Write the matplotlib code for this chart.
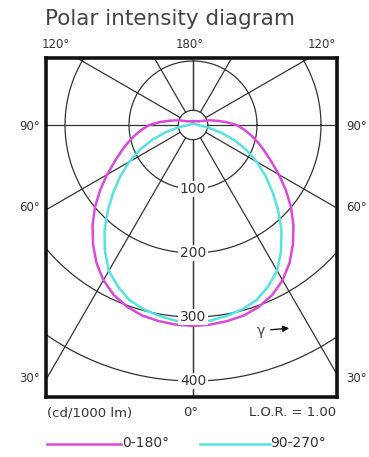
import numpy as np
import matplotlib
matplotlib.use('Agg')
import matplotlib.pyplot as plt

plt.rcParams['font.family'] = ['DejaVu Sans']

# Intensity (cd/1000 lm) against gamma angle
gamma_m = [0, 5, 10, 15, 20, 25, 30, 35, 40, 45, 50, 55, 60, 65, 70, 75, 80, 85,
           90, 95, 100, 105, 110, 120, 135, 150, 165, 180]
int_m = [314, 313, 311, 308, 302, 293, 280, 263, 243, 222, 200, 177, 155, 135,
         119, 105, 92, 80, 68, 52, 38, 28, 20, 12, 8, 7, 6, 6]

gamma_c = [0, 5, 10, 15, 20, 25, 30, 35, 40, 45, 50, 55, 60, 65, 70, 75, 80, 85,
           90, 105, 120, 150, 180]
int_c = [308, 307, 303, 298, 291, 278, 263, 240, 215, 188, 162, 138, 115, 92,
         68, 45, 25, 13, 7, 4, 3, 3, 3]

rings = [100, 200, 300, 400]
spokes = [0, 30, 60, 90, 120, 150, 180]
side_labels = ['90°', '60°', '30°']
top_labels = ['120°', '180°', '120°']

W, H = 369, 457
fig = plt.figure(figsize=(W / 100, H / 100), dpi=100)

# pixel helpers
def fx(x):
    return x / W

def fy(y):
    return 1 - y / H

ox, oy, s = 193, 125, 0.64  # origin in px, px per cd unit
left, right, top, bottom = 46, 337, 58, 397
ax = fig.add_axes([fx(left), fy(bottom), (right - left) / W, (bottom - top) / H])
ax.set_xlim((left - ox) / s, (right - ox) / s)
ax.set_ylim((oy - bottom) / s, (oy - top) / s)
ax.set_xticks([])
ax.set_yticks([])
for sp in ax.spines.values():
    sp.set_linewidth(2.6)
    sp.set_color('#111111')

grid_kw = dict(color='#333333', lw=0.9, zorder=1)

# rings
t = np.linspace(0, 2 * np.pi, 400)
for r in rings:
    ax.plot(r * np.cos(t), r * np.sin(t), **grid_kw)
    ax.text(0, -r, str(r), ha='center', va='center', fontsize=10, color='#333333',
            bbox=dict(boxstyle='square,pad=0.1', fc='white', ec='none'), zorder=4)

# small centre circle and spokes
r0 = 23
ax.plot(r0 * np.cos(t), r0 * np.sin(t), **grid_kw)
for a in spokes:
    th = np.radians(a)
    for sgn in (-1, 1):
        ax.plot([sgn * r0 * np.sin(th), sgn * 700 * np.sin(th)],
                [-r0 * np.cos(th), -700 * np.cos(th)], **grid_kw)


def closed_curve(g, v):
    g = np.radians(np.array(g))
    v = np.array(v, dtype=float)
    xl, yl = -v * np.sin(g), -v * np.cos(g)
    xr, yr = v * np.sin(g), -v * np.cos(g)
    return np.r_[xl[::-1], xr], np.r_[yl[::-1], yr]


xm, ym = closed_curve(gamma_m, int_m)
xc, yc = closed_curve(gamma_c, int_c)
ax.plot(xc, yc, color='#55e2e2', lw=1.8, zorder=2)
ax.plot(xm, ym, color='#d94ad9', lw=1.8, zorder=3)

# gamma marker
ax.annotate('', xy=((292 - ox) / s, (oy - 328) / s), xytext=((268 - ox) / s, (oy - 330) / s),
            arrowprops=dict(arrowstyle='-|>', color='#111111', lw=1.0, mutation_scale=9))
ax.text((261 - ox) / s, (oy - 331) / s, 'γ', ha='center', va='center', fontsize=10,
        color='#444444')

tc = '#333333'
fig.text(fx(45), fy(19), 'Polar intensity diagram', fontsize=15.5, color='#444444',
         ha='left', va='center')
for lab, x in zip(top_labels, [56, 190, 322]):
    fig.text(fx(x), fy(44), lab, fontsize=8.5, color=tc, ha='center', va='center')
for lab, y in zip(side_labels, [127, 207, 378]):
    fig.text(fx(40), fy(y), lab, fontsize=8.5, color=tc, ha='right', va='center')
    fig.text(fx(346), fy(y), lab, fontsize=8.5, color=tc, ha='left', va='center')

fig.text(fx(47), fy(413), '(cd/1000 lm)', fontsize=9.5, color=tc, ha='left', va='center')
fig.text(fx(191), fy(412), '0°', fontsize=9.5, color=tc, ha='center', va='center')
fig.text(fx(336), fy(413), 'L.O.R. = 1.00', fontsize=9.5, color=tc, ha='right', va='center')

# legend
fig.add_artist(plt.Line2D([fx(47), fx(121)], [fy(444), fy(444)], color='#d94ad9', lw=1.8))
fig.text(fx(122), fy(443), '0-180°', fontsize=10, color=tc, ha='left', va='center')
fig.add_artist(plt.Line2D([fx(200), fx(270)], [fy(444), fy(444)], color='#55e2e2', lw=1.8))
fig.text(fx(270), fy(443), '90-270°', fontsize=10, color=tc, ha='left', va='center')

fig.savefig('out.png', dpi=100)
